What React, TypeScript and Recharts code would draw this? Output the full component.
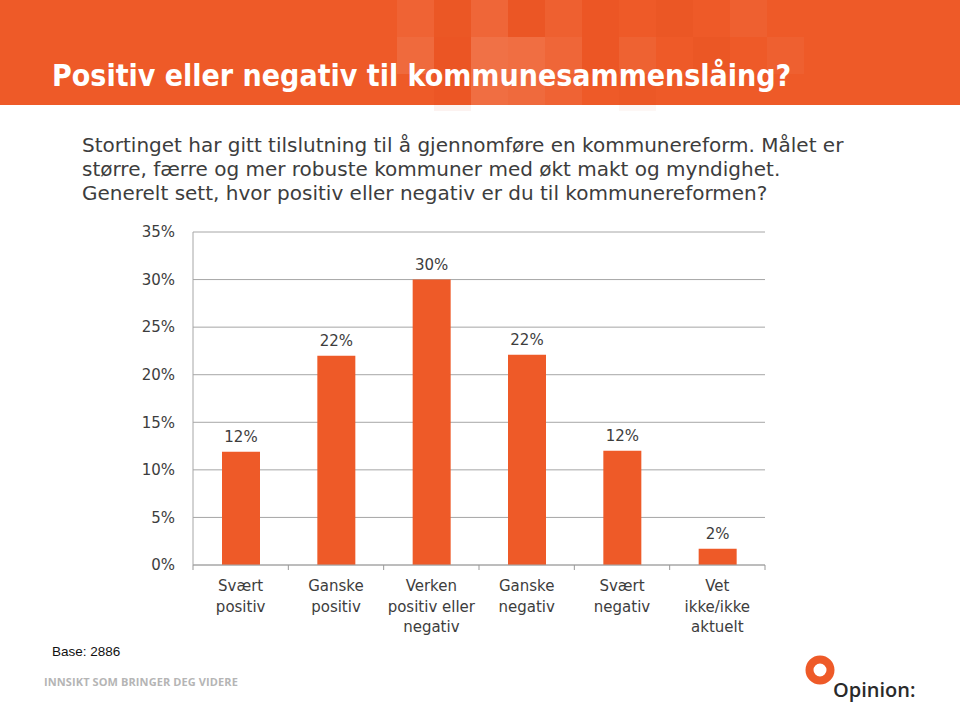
import { BarChart, Bar, XAxis, YAxis, CartesianGrid, LabelList } from "recharts";

const categories = [
  "Svært positiv",
  "Ganske positiv",
  "Verken positiv eller negativ",
  "Ganske negativ",
  "Svært negativ",
  "Vet ikke/ikke aktuelt",
];
const categoryLines = [
  ["Svært", "positiv"],
  ["Ganske", "positiv"],
  ["Verken", "positiv eller", "negativ"],
  ["Ganske", "negativ"],
  ["Svært", "negativ"],
  ["Vet", "ikke/ikke", "aktuelt"],
];
const shares = [11.9, 22.0, 30.0, 22.1, 12.0, 1.7];
const yTicks = [0, 5, 10, 15, 20, 25, 30, 35];

const data = categories.map((name, i) => ({ name, share: shares[i], idx: i }));

const ORANGE = "#EE5A28";
const TEXT = "#3d3d3d";
const FONT = "'DejaVu Sans', sans-serif";

const PLOT_W = 572;
const BAND = PLOT_W / categories.length;

// banner decoration: [col, row, opacity, light?]
const squares: [number, number, number, boolean][] = [
  [0, 0, 0.06, true], [1, 0, 0.05, false], [2, 0, 0.08, true], [3, 0, 0.07, false],
  [4, 0, 0.04, true], [5, 0, 0.06, false], [7, 0, 0.05, false], [9, 0, 0.04, true],
  [0, 1, 0.1, true], [1, 1, 0.08, false], [2, 1, 0.14, true], [3, 1, 0.12, true],
  [4, 1, 0.08, true], [5, 1, 0.06, false], [6, 1, 0.05, true], [8, 1, 0.05, false],
  [10, 1, 0.04, true],
  [1, 2, 0.06, false], [2, 2, 0.12, true], [3, 2, 0.1, true], [4, 2, 0.06, true],
  [6, 2, 0.04, false],
];

function CategoryTick(props: any) {
  const { x, y, payload, index } = props;
  const lines = categoryLines[index] ?? [payload.value];
  return (
    <g>
      <line x1={x - BAND / 2} y1={y - 8} x2={x - BAND / 2} y2={y - 3} stroke="#999" />
      {index === categories.length - 1 && (
        <line x1={x + BAND / 2} y1={y - 8} x2={x + BAND / 2} y2={y - 3} stroke="#999" />
      )}
      {lines.map((t: string, i: number) => (
        <text
          key={i}
          x={x}
          y={y + 18 + i * 20.5}
          textAnchor="middle"
          fontSize={15}
          fontFamily={FONT}
          fill={TEXT}
        >
          {t}
        </text>
      ))}
    </g>
  );
}

export default function App() {
  return (
    <div
      style={{
        position: "absolute",
        left: 0,
        top: 0,
        width: 960,
        height: 702,
        background: "#fff",
        overflow: "hidden",
        fontFamily: FONT,
      }}
    >
      <div style={{ position: "absolute", left: 0, top: 0, width: 960, height: 105, background: ORANGE }}>
        {squares.map(([c, r, o, light], i) => (
          <div
            key={i}
            style={{
              position: "absolute",
              left: 397 + c * 37,
              top: r * 37,
              width: 37,
              height: 37,
              background: light ? "#ffffff" : "#c62a00",
              opacity: o,
            }}
          />
        ))}
        <div
          style={{
            position: "absolute",
            left: 52,
            top: 58,
            color: "#fff",
            fontFamily: "'DejaVu Sans Condensed', 'DejaVu Sans', sans-serif",
            fontWeight: "bold",
            fontSize: 30,
            whiteSpace: "nowrap",
          }}
        >
          Positiv eller negativ til kommunesammenslåing?
        </div>
      </div>

      <div
        style={{
          position: "absolute",
          left: 82,
          top: 133,
          color: TEXT,
          fontSize: 20,
          lineHeight: "24px",
          whiteSpace: "nowrap",
        }}
      >
        <div>Stortinget har gitt tilslutning til å gjennomføre en kommunereform. Målet er</div>
        <div>større, færre og mer robuste kommuner med økt makt og myndighet.</div>
        <div>Generelt sett, hvor positiv eller negativ er du til kommunereformen?</div>
      </div>

      <div style={{ position: "absolute", left: 0, top: 200 }}>
        <BarChart
          width={960}
          height={460}
          data={data}
          margin={{ top: 32, right: 195, bottom: 15, left: 0 }}
          barSize={38}
        >
          <CartesianGrid vertical={false} stroke="#a6a6a6" />
          <XAxis
            dataKey="name"
            height={80}
            axisLine={{ stroke: "#a6a6a6" }}
            tickLine={false}
            interval={0}
            tick={<CategoryTick />}
          />
          <YAxis
            width={193}
            domain={[0, 35]}
            ticks={yTicks}
            axisLine={{ stroke: "#a6a6a6" }}
            tickLine={false}
            tickFormatter={(v) => `${v}%`}
            tick={{ fontSize: 15, fontFamily: FONT, fill: TEXT }}
            tickMargin={12}
          />
          <Bar dataKey="share" fill={ORANGE} isAnimationActive={false}>
            <LabelList
              dataKey="share"
              position="top"
              offset={10}
              formatter={(v: any) => `${Math.round(Number(v))}%`}
              style={{ fontSize: 15, fontFamily: FONT, fill: TEXT }}
            />
          </Bar>
        </BarChart>
      </div>

      <div style={{ position: "absolute", left: 52, top: 644, fontFamily: "'Liberation Sans', Arial, sans-serif", fontSize: 13.5, color: "#111" }}>
        Base: 2886
      </div>
      <div
        style={{
          position: "absolute",
          left: 44,
          top: 674,
          fontFamily: "'Open Sans', sans-serif",
          fontWeight: 700,
          fontSize: 11,
          color: "#b5b5b5",
          letterSpacing: 0.1,
        }}
      >
        INNSIKT SOM BRINGER DEG VIDERE
      </div>

      <svg style={{ position: "absolute", left: 790, top: 645 }} width={170} height={57}>
        <circle cx={30} cy={25} r={10.5} fill="none" stroke={ORANGE} strokeWidth={8} />
        <text x={43} y={52} fontFamily="'Open Sans', sans-serif" fontWeight={600} fontSize={20} fill="#2a2a2a">
          Opinion:
        </text>
      </svg>
    </div>
  );
}
